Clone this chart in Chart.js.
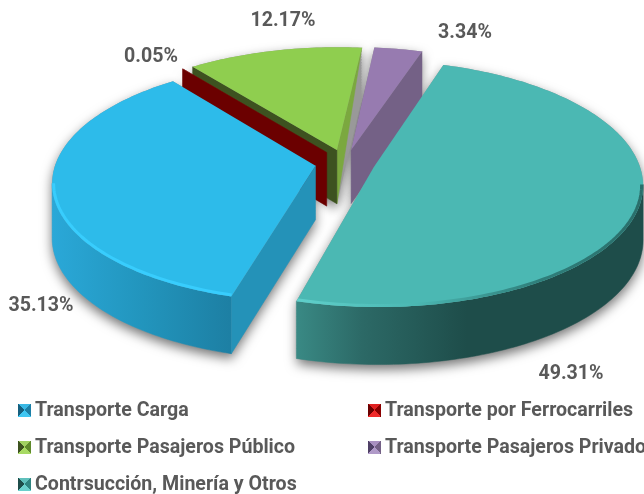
<!DOCTYPE html>
<html>
<head>
<meta charset="utf-8">
<script src="https://cdn.jsdelivr.net/npm/chart.js@4"></script>
<style>
  html, body { margin: 0; padding: 0; background: #fff; }
  #wrap { position: relative; width: 644px; height: 494px; overflow: hidden; }
  #legend div { position: absolute; white-space: nowrap; font: bold 19.6px Roboto, "Liberation Sans", sans-serif; color: #595959; line-height: 22px; }
  #legend i { display: inline-block; width: 13px; height: 13px; margin-right: 4px; vertical-align: -1px; }
</style>
</head>
<body>
<div id="wrap">
  <canvas id="pie-chart" width="644" height="494"></canvas>
  <div id="legend"></div>
</div>
<script>
// values
var categories = ["Transporte Carga", "Transporte por Ferrocarriles", "Transporte Pasajeros Público", "Transporte Pasajeros Privado", "Contrsucción, Minería y Otros"];
var shares = [35.13, 0.05, 12.17, 3.34, 49.31];

// styles per slice
var topColors = ['#2dbbea', '#8a0000', '#8fce4f', '#977bb0', '#4bb8b3'];
var rimColors = ['#38cdfd', '#8a0000', '#8fce4f', '#977bb0', '#4bb8b3'];
var wallColors = ['#2492b8', '#6b0000', '#3d5220', '#746186', '#1e4d4a'];
var endWallColors = ['#2492b8', '#6b0000', '#7ba83f', '#746186', '#1e4d4a'];
var iconColors = [
  ['#3ab8e4', '#1c7fa6', '#3fc6f2', '#15607f'],
  ['#e02020', '#8a0000', '#f02a2a', '#6b0000'],
  ['#a0d060', '#5f8a2c', '#a8da64', '#3d5220'],
  ['#a890c0', '#746186', '#b09ac8', '#4f4066'],
  ['#60c0bc', '#2f8480', '#6ad0cc', '#1e4d4a']
];
var labelSpots = [[41, 305], [151, 56], [283, 20], [465, 32], [571, 373]];
var legendSpots = [[18, 399], [368, 399], [18, 436], [368, 436], [18, 473]];

var paintOrder = [3, 2, 1, 4, 0];
var STRETCH = 265 / 163;  // pie is wider than the chart area allows
var sliceScale = [0.98, 1, 1, 1, 1];
var TILT = 0.453;
var PERSP = 0.135;
var DEPTH = 54;
var EXPLODE = 30;

function project(arc, R, X, Y, Z) {
  var p = 1 / (1 - PERSP * Y / R);
  return [arc.x + X * p, arc.y + TILT * Y * p + Z * (0.6 + 0.4 * p)];
}

function outline(arc, Z, idx) {
  var R = arc.outerRadius * STRETCH;
  var r = R * sliceScale[idx];
  var mid = (arc.startAngle + arc.endAngle) / 2;
  var ox = Math.cos(mid) * EXPLODE, oy = Math.sin(mid) * EXPLODE;
  var rim = [];
  var steps = Math.max(2, Math.ceil((arc.endAngle - arc.startAngle) / 0.02));
  for (var i = 0; i <= steps; i++) {
    var a = arc.startAngle + (arc.endAngle - arc.startAngle) * i / steps;
    rim.push(project(arc, R, ox + Math.cos(a) * r, oy + Math.sin(a) * r, Z));
  }
  return { apex: project(arc, R, ox, oy, Z), rim: rim };
}

function tracePoly(ctx, pts) {
  ctx.moveTo(pts[0][0], pts[0][1]);
  for (var i = 1; i < pts.length; i++) ctx.lineTo(pts[i][0], pts[i][1]);
  ctx.closePath();
}

function fillQuad(ctx, pts, color) {
  ctx.beginPath();
  tracePoly(ctx, pts);
  ctx.fillStyle = color;
  ctx.strokeStyle = color;
  ctx.lineWidth = 0.5;
  ctx.fill();
  ctx.stroke();
}

function wallGradient(ctx, idx) {
  if (idx == 0) {
    var g = ctx.createLinearGradient(52, 0, 232, 0);
    g.addColorStop(0, '#2aa8d8');
    g.addColorStop(0.5, '#2295bd');
    g.addColorStop(1, '#1d7fa3');
    return g;
  }
  if (idx == 4) {
    var t = ctx.createLinearGradient(293, 0, 640, 0);
    t.addColorStop(0, '#3a8b86');
    t.addColorStop(0.2, '#2c6966');
    t.addColorStop(0.5, '#1e4d4a');
    t.addColorStop(1, '#1e4d4a');
    return t;
  }
  return wallColors[idx];
}

function drawSlice(ctx, arc, idx) {
  var up = outline(arc, 0, idx);
  var down = outline(arc, DEPTH, idx);

  // outer wall, front facing part only
  var front = [], frontLow = [];
  for (var i = 0; i < up.rim.length - 1; i++) {
    if (up.rim[i + 1][0] < up.rim[i][0]) {
      if (!front.length) { front.push(up.rim[i]); frontLow.push(down.rim[i]); }
      front.push(up.rim[i + 1]);
      frontLow.push(down.rim[i + 1]);
    }
  }
  if (front.length > 1) fillQuad(ctx, front.concat(frontLow.slice().reverse()), wallGradient(ctx, idx));

  // radial walls, end one first as it sits further back
  var last = up.rim.length - 1;
  if (up.rim[last][0] > up.apex[0]) {
    var rimLow = idx == 2 ? up.rim[last] : down.rim[last];  // green wall tapers out at the rim
    fillQuad(ctx, [up.rim[last], up.apex, down.apex, rimLow], endWallColors[idx]);
  }
  if (up.rim[0][0] < up.apex[0]) {
    fillQuad(ctx, [up.apex, up.rim[0], down.rim[0], down.apex], wallColors[idx]);
  }

  // top face with a bevel line along the front edge
  ctx.beginPath();
  tracePoly(ctx, [up.apex].concat(up.rim));
  ctx.fillStyle = topColors[idx];
  ctx.fill();
  if ((idx == 0 || idx == 4) && front.length > 1) {
    ctx.save();
    ctx.clip();
    ctx.beginPath();
    ctx.moveTo(front[0][0], front[0][1]);
    front.forEach(function (p) { ctx.lineTo(p[0], p[1]); });
    ctx.lineWidth = 6;
    if (idx == 4) {
      var g = ctx.createLinearGradient(293, 0, 640, 0);
      g.addColorStop(0, '#60d0cb');
      g.addColorStop(0.35, '#4bb8b3');
      g.addColorStop(0.7, '#2f7f7b');
      g.addColorStop(1, '#2a6f6b');
      ctx.strokeStyle = g;
    } else {
      ctx.strokeStyle = rimColors[idx];
    }
    ctx.stroke();
    ctx.restore();
  }
}

var pie3d = {
  id: 'pie3d',
  beforeDatasetsDraw: function (chart) {
    var ctx = chart.ctx;
    var arcs = chart.getDatasetMeta(0).data;
    ctx.save();

    // soft shadow under every slice
    paintOrder.forEach(function (idx) {
      ctx.save();
      ctx.beginPath();
      for (var z = 0; z <= DEPTH; z += 3) {
        var o = outline(arcs[idx], z, idx);
        tracePoly(ctx, [o.apex].concat(o.rim));
      }
      ctx.shadowColor = 'rgba(0,0,0,0.55)';
      ctx.shadowBlur = 12;
      ctx.shadowOffsetY = 5;
      ctx.fillStyle = '#999';
      ctx.fill();
      ctx.restore();
    });

    paintOrder.forEach(function (idx) { drawSlice(ctx, arcs[idx], idx); });

    // data labels
    ctx.font = 'bold 19.6px Roboto, "Liberation Sans", sans-serif';
    ctx.fillStyle = '#595959';
    ctx.textAlign = 'center';
    ctx.textBaseline = 'middle';
    shares.forEach(function (v, i) {
      ctx.fillText(v.toFixed(2) + '%', labelSpots[i][0], labelSpots[i][1] + 1);
    });
    ctx.restore();
    return false;
  }
};

new Chart(document.getElementById("pie-chart"), {
  type: 'pie',
  plugins: [pie3d],
  data: {
    labels: categories,
    datasets: [
      {
        data: shares,
        backgroundColor: topColors,
        borderWidth: 0,
        hoverOffset: 0
      }
    ]
  },
  options: {
    responsive: false,
    animation: false,
    rotation: 195.5,
    layout: { padding: { left: 46, right: 0, top: 0, bottom: 168 } },
    plugins: { legend: { display: false }, tooltip: { enabled: false } }
  }
});

// legend with the little pyramid markers
var legendBox = document.getElementById("legend");
categories.forEach(function (name, i) {
  var row = document.createElement("div");
  row.style.left = legendSpots[i][0] + "px";
  row.style.top = legendSpots[i][1] + "px";
  var c = iconColors[i];
  var icon = document.createElement("i");
  icon.style.background = "conic-gradient(from -45deg, " + c[0] + " 0 25%, " + c[1] + " 0 50%, " + c[2] + " 0 75%, " + c[3] + " 0)";
  row.appendChild(icon);
  row.appendChild(document.createTextNode(name));
  legendBox.appendChild(row);
});
</script>
</body>
</html>
